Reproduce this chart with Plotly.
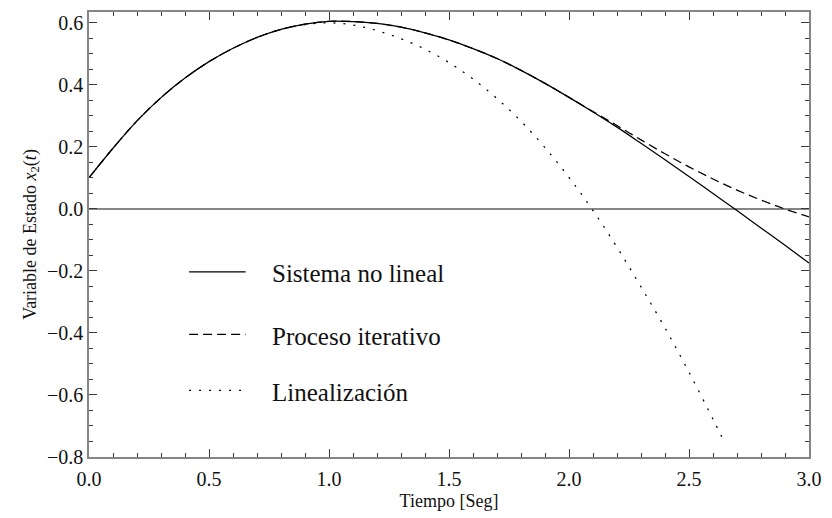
import plotly.graph_objects as go

# Time grid (seconds)
t = [0.0, 0.1, 0.2, 0.3, 0.4, 0.5, 0.6, 0.7, 0.8, 0.9, 1.0,
     1.1, 1.2, 1.3, 1.4, 1.5, 1.6, 1.7, 1.8, 1.9, 2.0,
     2.1, 2.2, 2.3, 2.4, 2.5, 2.6, 2.7, 2.8, 2.9, 3.0]

# State variable x2(t) for the nonlinear system
x2_nolineal = [0.100, 0.195, 0.283, 0.358, 0.421, 0.474, 0.517, 0.552, 0.578, 0.595, 0.604,
               0.603, 0.597, 0.585, 0.567, 0.544, 0.516, 0.484, 0.446, 0.404, 0.359,
               0.312, 0.263, 0.211, 0.158, 0.104, 0.049, -0.006, -0.062, -0.118, -0.175]

# Iterative process
x2_iterativo = [0.100, 0.195, 0.283, 0.358, 0.421, 0.474, 0.517, 0.552, 0.578, 0.595, 0.604,
                0.603, 0.597, 0.585, 0.567, 0.544, 0.516, 0.484, 0.446, 0.404, 0.359,
                0.313, 0.268, 0.222, 0.177, 0.135, 0.096, 0.060, 0.028, -0.001, -0.026]

# Linearized model (leaves the plot range shortly after t = 2.65)
t_lin = [0.0, 0.1, 0.2, 0.3, 0.4, 0.5, 0.6, 0.7, 0.8, 0.9, 1.0,
         1.1, 1.2, 1.3, 1.4, 1.5, 1.6, 1.7, 1.8, 1.9, 2.0,
         2.1, 2.2, 2.3, 2.4, 2.5, 2.6, 2.65]
x2_lineal = [0.100, 0.195, 0.283, 0.358, 0.421, 0.474, 0.517, 0.552, 0.578, 0.593, 0.599,
             0.592, 0.574, 0.548, 0.514, 0.471, 0.418, 0.355, 0.282, 0.197, 0.101,
             -0.006, -0.124, -0.252, -0.384, -0.527, -0.678, -0.756]

names = ["Sistema no lineal", "Proceso iterativo", "Linealización"]
dashes = ["solid", "9px,5px", "2px,8px"]

SERIF = "Liberation Serif"
FRAME = "#858585"
TICK = "#3a3a3a"

fig = go.Figure()
series = [(t, x2_nolineal), (t, x2_iterativo), (t_lin, x2_lineal)]
for (xs, ys), name, dash in zip(series, names, dashes):
    fig.add_trace(go.Scatter(
        x=xs, y=ys, name=name, mode="lines",
        line=dict(color="black", width=1.25, dash=dash, shape="spline", smoothing=1.0),
        showlegend=False,
    ))

# Hand-placed key inside the frame
key_rows = [0.416, 0.2756, 0.150]
for yk, name, dash in zip(key_rows, names, dashes):
    fig.add_shape(type="line", xref="paper", yref="paper",
                  x0=0.139, x1=0.2175, y0=yk, y1=yk,
                  line=dict(color="black", width=1.25, dash=dash))
    fig.add_annotation(xref="paper", yref="paper", x=0.2515, y=yk - 0.004,
                       text=name, showarrow=False, xanchor="left", yanchor="middle",
                       font=dict(family=SERIF, size=25, color="#111"))

axis_common = dict(
    showline=True, linecolor=FRAME, linewidth=1.5, mirror="allticks",
    ticks="inside", ticklen=8, tickwidth=1.2, tickcolor=TICK,
    showgrid=False, tickfont=dict(family=SERIF, size=20, color="#111"),
    title_font=dict(family=SERIF, size=18, color="#111"),
)

fig.update_xaxes(
    range=[0, 3], tick0=0, dtick=0.5, tickformat=".1f",
    minor=dict(dtick=0.1, ticks="inside", ticklen=4.5, tickwidth=1.1, tickcolor=TICK),
    zeroline=False, title_text="Tiempo [Seg]", title_standoff=6,
    ticklabelstandoff=3,
    **axis_common,
)
fig.update_yaxes(
    range=[-0.8, 0.634], tick0=0, dtick=0.2, tickformat=".1f",
    minor=dict(dtick=0.05, ticks="inside", ticklen=4.5, tickwidth=1.1, tickcolor=TICK),
    zeroline=True, zerolinecolor=FRAME, zerolinewidth=1.5,
    title_text="Variable de Estado <i>x</i><sub>2</sub>(<i>t</i>)", title_standoff=6,
    **axis_common,
)

fig.update_layout(
    width=832, height=518,
    margin=dict(l=89, r=15, t=10, b=57),
    plot_bgcolor="white", paper_bgcolor="white",
    font=dict(family=SERIF, color="#111"),
)

fig.write_html("out.html")
